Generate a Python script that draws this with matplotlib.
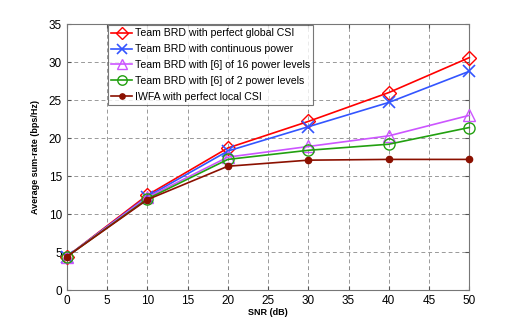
import matplotlib.pyplot as plt

snr = [0, 10, 20, 30, 40, 50]
brd_global = [4.4, 12.5, 18.7, 22.2, 26.0, 30.6]
brd_continuous = [4.4, 12.3, 18.3, 21.5, 24.7, 28.8]
brd_16levels = [4.4, 12.2, 17.5, 18.9, 20.3, 23.0]
brd_2levels = [4.4, 12.0, 17.2, 18.4, 19.2, 21.4]
iwfa_local = [4.4, 11.9, 16.3, 17.1, 17.2, 17.2]

labels = ['Team BRD with perfect global CSI',
          'Team BRD with continuous power',
          'Team BRD with [6] of 16 power levels',
          'Team BRD with [6] of 2 power levels',
          'IWFA with perfect local CSI']

plt.rcParams['font.family'] = ['Liberation Sans', 'DejaVu Sans']

fig = plt.figure(figsize=(5.18, 3.27), dpi=100)
ax = fig.add_axes([0.129, 0.113, 0.777, 0.813])

# 各曲线样式
common = dict(linewidth=1.2, clip_on=False, zorder=3)
ax.plot(snr, brd_global, color='#ff0000', marker='D', markersize=7,
        markerfacecolor='none', markeredgewidth=1.0, label=labels[0], **common)
ax.plot(snr, brd_continuous, color='#3355ff', marker='x', markersize=8,
        markeredgewidth=1.2, label=labels[1], **common)
ax.plot(snr, brd_16levels, color='#cc55ff', marker='^', markersize=8,
        markerfacecolor='none', markeredgewidth=1.0, label=labels[2], **common)
ax.plot(snr, brd_2levels, color='#22a010', marker='o', markersize=8,
        markerfacecolor='none', markeredgewidth=1.0, label=labels[3], **common)
ax.plot(snr, iwfa_local, color='#8b1000', marker='o', markersize=4.5,
        label=labels[4], **common)

ax.set_xlim(0, 50)
ax.set_ylim(0, 35)
ax.set_xticks(range(0, 51, 5))
ax.set_yticks(range(0, 36, 5))
ax.tick_params(direction='in', labelsize=8.5, length=3, top=True, right=True,
               color='#555555')
for sp in ax.spines.values():
    sp.set_color('#777777')
    sp.set_linewidth(0.8)
ax.grid(True, linestyle=(0, (4, 3)), color='#999999', linewidth=0.7)

ax.set_xlabel('SNR (dB)', fontsize=6.5, fontweight='bold', labelpad=1)
ax.set_ylabel('Average sum-rate (bps/Hz)', fontsize=6.5, fontweight='bold', labelpad=6)

leg = ax.legend(loc='upper left', bbox_to_anchor=(0.1, 1.0), fontsize=7.6,
                frameon=True, fancybox=False, edgecolor='#555555',
                borderpad=0.35, labelspacing=0.55, handlelength=2.0,
                handletextpad=0.2, borderaxespad=0.05, markerscale=0.85)
leg.get_frame().set_linewidth(0.8)
leg.set_zorder(5)

fig.savefig('out.png', dpi=100)
